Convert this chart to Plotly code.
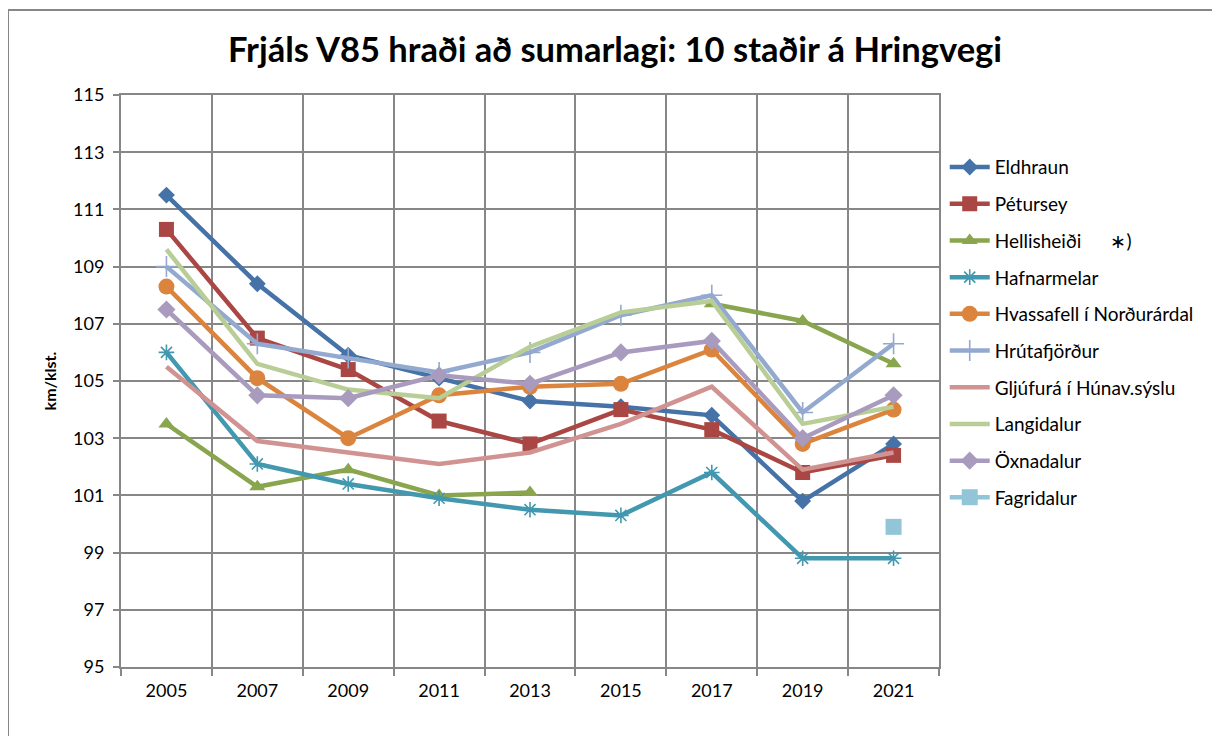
import plotly.graph_objects as go

years = ["2005", "2007", "2009", "2011", "2013", "2015", "2017", "2019", "2021"]

eldhraun     = [111.5, 108.4, 105.9, 105.1, 104.3, 104.1, 103.8, 100.8, 102.8]
petursey     = [110.3, 106.5, 105.4, 103.6, 102.8, 104.0, 103.3, 101.8, 102.4]
hellisheidi  = [103.5, 101.3, 101.9, 101.0, 101.1, None, 107.7, 107.1, 105.6]
hafnarmelar  = [106.0, 102.1, 101.4, 100.9, 100.5, 100.3, 101.8, 98.8, 98.8]
hvassafell   = [108.3, 105.1, 103.0, 104.5, 104.8, 104.9, 106.1, 102.8, 104.0]
hrutafjordur = [109.0, 106.3, 105.8, 105.3, 106.0, 107.3, 108.0, 103.9, 106.3]
gljufura     = [105.5, 102.9, 102.5, 102.1, 102.5, 103.5, 104.8, 101.9, 102.5]
langidalur   = [109.6, 105.6, 104.7, 104.4, 106.2, 107.4, 107.8, 103.5, 104.1]
oxnadalur    = [107.5, 104.5, 104.4, 105.2, 104.9, 106.0, 106.4, 103.0, 104.5]
fagridalur   = [None, None, None, None, None, None, None, None, 99.9]

y_ticks = [95, 97, 99, 101, 103, 105, 107, 109, 111, 113, 115]

series = [
    ("Eldhraun", eldhraun, "#4572A7", "diamond", 13, 0),
    ("Pétursey", petursey, "#AA4643", "square", 15, 0),
    ("Hellisheiði\u00a0\u00a0\u00a0\u00a0\u00a0\u00a0∗)", hellisheidi, "#89A54E", "triangle-up", 14, 0),
    ("Hafnarmelar", hafnarmelar, "#4198AF", "asterisk-open", 13, 1.6),
    ("Hvassafell í Norðurárdal", hvassafell, "#DB843D", "circle", 16, 0),
    ("Hrútafjörður", hrutafjordur, "#93A9CF", "cross-thin-open", 15, 1.6),
    ("Gljúfurá í Húnav.sýslu", gljufura, "#D19392", None, 0, 0),
    ("Langidalur", langidalur, "#B9CD96", None, 0, 0),
    ("Öxnadalur", oxnadalur, "#A99BBD", "diamond", 14, 0),
    ("Fagridalur", fagridalur, "#92C5D8", "square", 16, 0),
]

fig = go.Figure()
for i, (name, vals, color, sym, size, lw) in enumerate(series):
    if sym is None:
        mode = "lines"
        marker = None
    else:
        mode = "lines+markers"
        marker = dict(symbol=sym, size=size, color=color,
                      line=dict(color=color, width=lw))
    fig.add_trace(go.Scatter(
        x=years, y=vals, name=name, mode=mode,
        line=dict(color=color, width=4.5),
        marker=marker, connectgaps=False,
        legendgroup=f"g{i}",
    ))

grid = "#878787"
# figure is drawn inside the page body (8px default margin)
W, H = 1212, 728
L, T, R, B = 113, 87, 281, 69
pw, ph = W - L - R, H - T - B

fig.update_layout(
    width=W, height=H,
    margin=dict(l=L, r=R, t=T, b=B),
    paper_bgcolor="white", plot_bgcolor="white",
    font=dict(family="Lato", color="#000000", size=17),
    title=dict(text="<b>Frjáls V85 hraði að sumarlagi: 10 staðir á Hringvegi</b>",
               x=(615 - 8) / W, xanchor="center", y=1 - (50 - 8) / H, yanchor="middle",
               font=dict(family="Lato", size=34.5, color="#000000")),
    showlegend=True,
    legend=dict(x=1.007, xanchor="left", y=0.907, yanchor="top",
                font=dict(family="Lato", size=19, color="#000000"),
                tracegroupgap=9, itemwidth=40, bgcolor="rgba(0,0,0,0)"),
    xaxis=dict(type="category", categoryorder="array", categoryarray=years,
               range=[-0.5, 8.5], tickson="boundaries",
               showgrid=True, gridcolor=grid, gridwidth=2,
               showline=True, linecolor=grid, linewidth=2, mirror=True,
               ticks="outside", ticklen=7, tickcolor=grid, tickwidth=2,
               ticklabelstandoff=6,
               tickfont=dict(family="Lato", size=18, color="#000000"),
               zeroline=False, fixedrange=True),
    yaxis=dict(range=[95, 115], tickvals=y_ticks,
               showgrid=True, gridcolor=grid, gridwidth=2,
               showline=True, linecolor=grid, linewidth=2, mirror=True,
               ticks="outside", ticklen=6, tickcolor=grid, tickwidth=2,
               ticklabelstandoff=5,
               tickfont=dict(family="Lato", size=18, color="#000000"),
               title=dict(text="<b>km/klst.</b>", standoff=12,
                          font=dict(family="Lato", size=16, color="#000000")),
               zeroline=False, fixedrange=True),
    shapes=[dict(type="rect", xref="paper", yref="paper",
                 x0=(0 - L) / pw, x1=(W + 30 - L) / pw,
                 y0=(T + ph - (H + 30)) / ph, y1=(T + ph - 2) / ph,
                 line=dict(color=grid, width=2), layer="below")],
)

fig.write_html("out.html")
